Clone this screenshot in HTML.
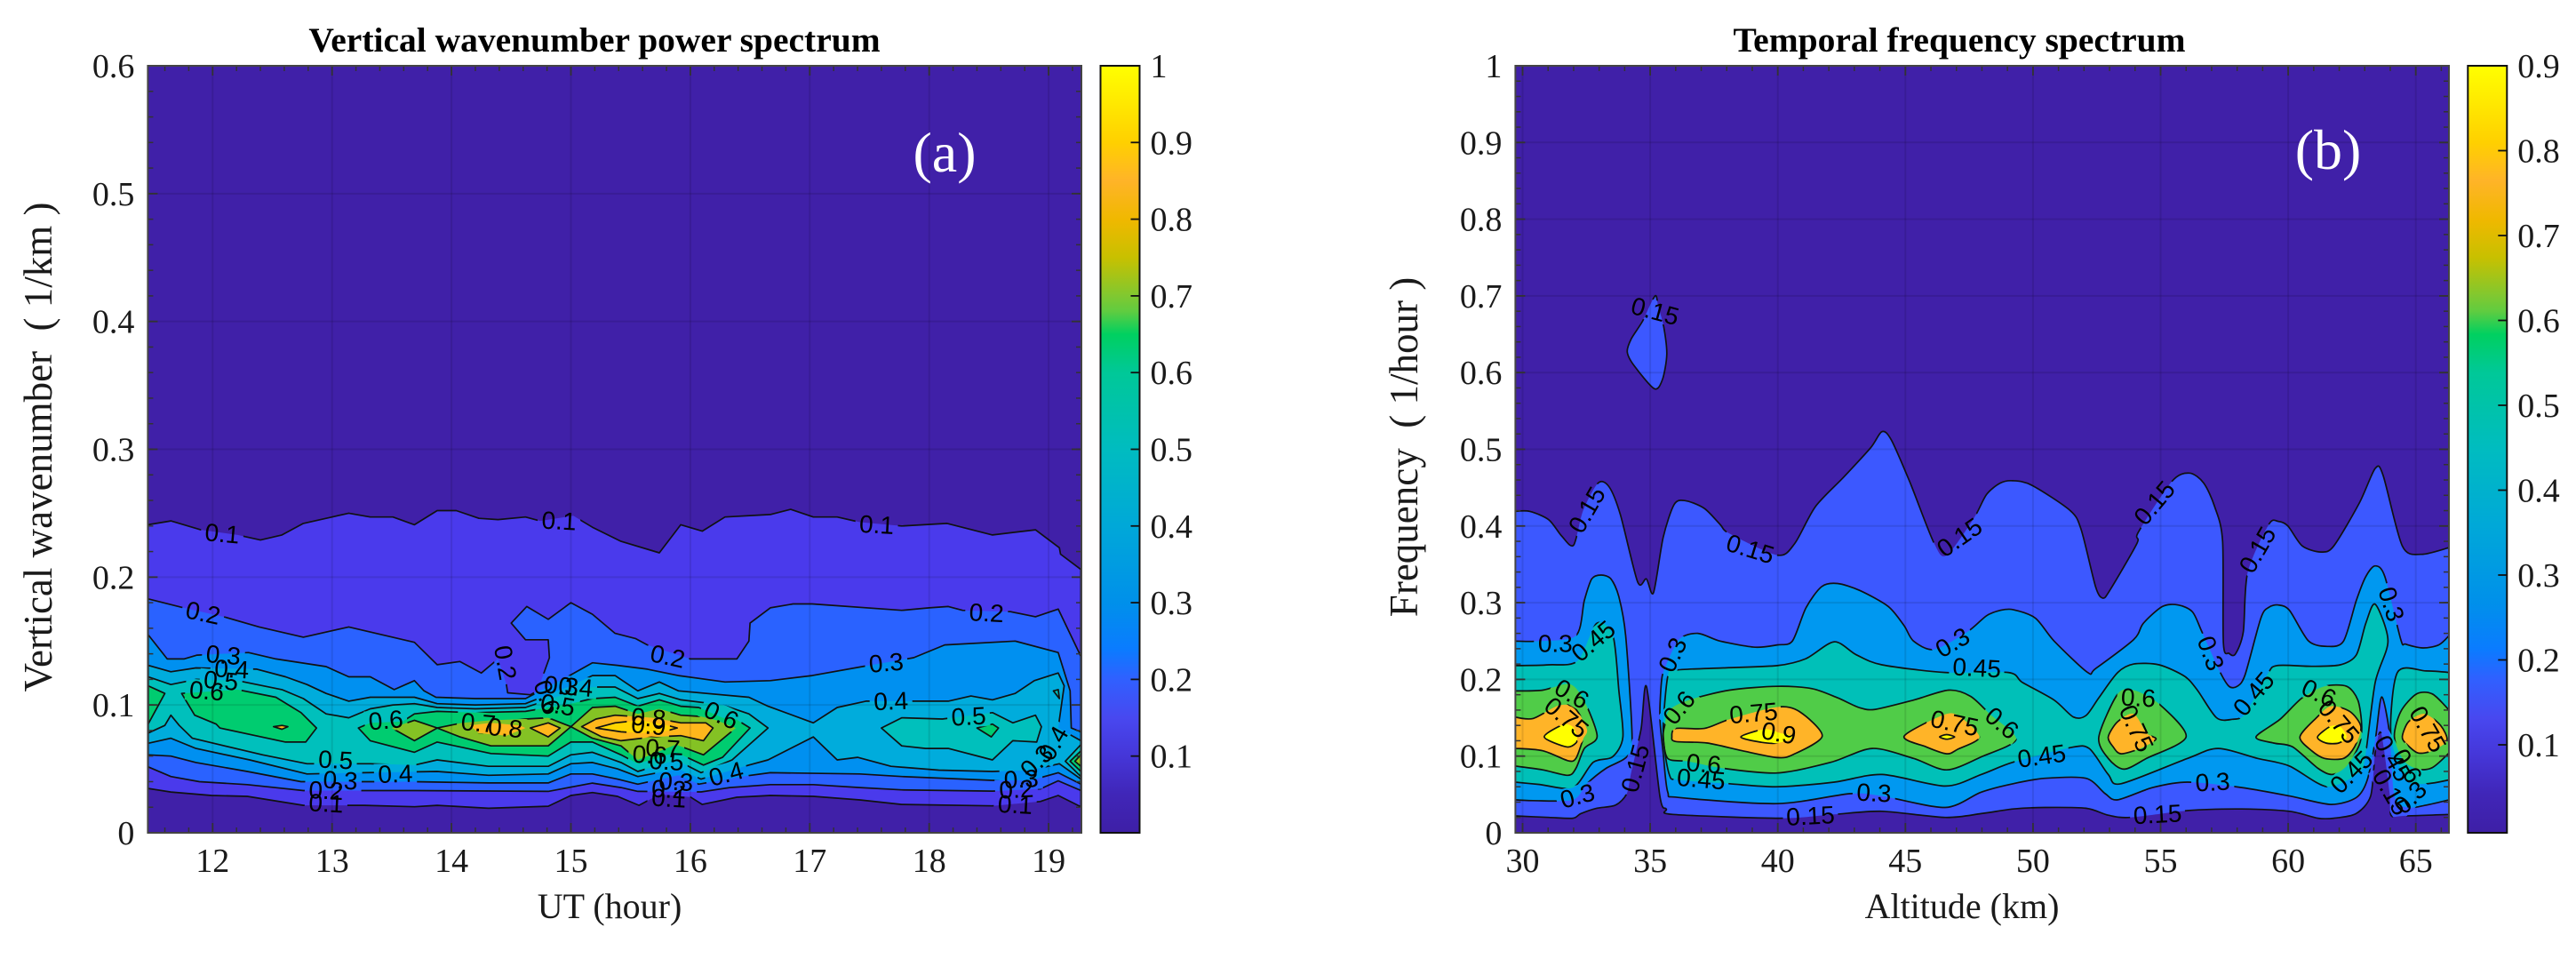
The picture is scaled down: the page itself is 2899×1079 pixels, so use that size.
<!DOCTYPE html>
<html lang="en">
<head>
<meta charset="utf-8">
<title>Vertical wavenumber and temporal frequency spectra</title>
<style>
html,body{margin:0;padding:0;background:#fff;width:2899px;height:1079px;overflow:hidden}
svg{display:block}
text{font-family:"Liberation Serif",serif;fill:#1a1a1a}
.cl{font-family:"Liberation Sans",sans-serif;font-size:28px;fill:#000}
.tl{font-size:38px}
.at{font-size:40px}
.yt{font-size:45px}
.ti{font-size:39.5px;font-weight:bold;fill:#000}
.pl{font-size:64px;fill:#fff}
</style>
</head>
<body>
<svg id="figure" xmlns="http://www.w3.org/2000/svg" width="2899" height="1079" viewBox="0 0 2899 1079">
  <defs>
    <clipPath id="clip-a"><rect x="166.4" y="74" width="1050.6" height="863"/></clipPath>
    <clipPath id="clip-b"><rect x="1705.4" y="74" width="1050.6" height="863"/></clipPath>
    <linearGradient id="cmap" x1="0" y1="1" x2="0" y2="0">
      <stop offset="0" stop-color="#3e1fa6"/><stop offset=".05" stop-color="#4026b8"/>
      <stop offset=".1" stop-color="#4536d8"/><stop offset=".15" stop-color="#4848f0"/>
      <stop offset=".2" stop-color="#3060ff"/><stop offset=".24" stop-color="#0a7cff"/>
      <stop offset=".3" stop-color="#0090ea"/><stop offset=".4" stop-color="#00a8d8"/>
      <stop offset=".5" stop-color="#00bcc0"/><stop offset=".6" stop-color="#00c898"/>
      <stop offset=".65" stop-color="#00d060"/><stop offset=".68" stop-color="#60cc40"/>
      <stop offset=".7" stop-color="#80c830"/><stop offset=".75" stop-color="#c8c000"/>
      <stop offset=".8" stop-color="#f0b800"/><stop offset=".85" stop-color="#ffb428"/>
      <stop offset=".9" stop-color="#ffd000"/><stop offset=".95" stop-color="#ffe800"/>
      <stop offset="1" stop-color="#ffff00"/>
    </linearGradient>
  </defs>
  <rect x="166.4" y="74" width="1050.6" height="863" fill="#4020a8"/>
  <rect x="1705.4" y="74" width="1050.6" height="863" fill="#4020a8"/>
  <g id="panel-a"></g>
  <g id="panel-b"></g>
  <g id="axes"></g>
  <rect x="1238.5" y="74" width="44" height="863" fill="url(#cmap)" stroke="#111" stroke-width="2"/>
  <rect x="2777.3" y="74" width="44" height="863" fill="url(#cmap)" stroke="#111" stroke-width="2"/>
  <text class="ti" x="669" y="58" text-anchor="middle">Vertical wavenumber power spectrum</text>
  <text class="ti" x="2205" y="58" text-anchor="middle">Temporal frequency spectrum</text>
  <text class="at" x="686" y="1033" text-anchor="middle">UT (hour)</text>
  <text class="at" x="2208" y="1033" text-anchor="middle">Altitude (km)</text>
  <text class="yt" transform="translate(58,503) rotate(-90)" text-anchor="middle" xml:space="preserve">Vertical wavenumber  ( 1/km )</text>
  <text class="yt" transform="translate(1595,503) rotate(-90)" text-anchor="middle" xml:space="preserve">Frequency  ( 1/hour )</text>
  <text class="pl" x="1063" y="193" text-anchor="middle">(a)</text>
  <text class="pl" x="2620" y="190" text-anchor="middle">(b)</text>
</svg>
<script>
// ---------- Panel (a): tick values ----------
const aXTicks = [12,13,14,15,16,17,18,19];
const aYTicks = [0,0.1,0.2,0.3,0.4,0.5,0.6];
const aBarTicks = [0.1,0.2,0.3,0.4,0.5,0.6,0.7,0.8,0.9,1];
// ---------- Panel (a): contour outlines as flat [UT hour, wavenumber, ...] ----------
const aC10 = [11.46,.241,11.65,.244,11.90,.237,12.21,.233,12.40,.229,12.58,.233,12.76,.242,13.0,.247,13.14,.250,13.32,.247,13.51,.247,13.69,.241,13.88,.252,14.04,.252,14.23,.246,14.39,.245,14.62,.247,14.74,.244,15.02,.248,15.18,.239,15.42,.228,15.74,.219,15.92,.241,16.10,.236,16.29,.247,16.67,.249,16.84,.253,17.03,.247,17.23,.247,17.42,.243,17.77,.240,18.15,.242,18.53,.233,18.89,.237,19.09,.223,19.10,.218,19.27,.206,
  19.27,.0204,19.08,.0292,18.93,.0245,18.53,.0211,17.77,.0222,17.42,.0257,17.03,.0285,16.67,.0292,16.39,.0278,16.10,.0222,16.0,.028,15.74,.030,15.57,.0215,15.39,.0285,15.18,.0315,15.0,.0292,14.81,.0208,14.31,.0192,13.88,.0215,13.69,.0204,13.27,.0215,12.76,.0215,12.29,.0285,11.99,.0292,11.65,.0319,11.46,.0347];
const aC20 = [11.46,.183,11.76,.176,12.11,.1685,12.39,.161,12.76,.153,13.14,.161,13.69,.149,13.88,.1315,14.07,.134,14.25,.125,14.39,.136,14.46,.116,14.47,.1095,14.66,.108,14.72,.111,14.82,.137,14.81,.151,14.62,.151,14.50,.164,14.63,.177,14.81,.167,15.0,.180,15.18,.171,15.37,.156,15.54,.152,15.64,.147,16.0,.136,16.39,.136,16.49,.15,16.50,.164,16.67,.176,16.86,.179,17.02,.179,17.77,.174,18.0,.176,18.16,.177,18.28,.174,18.68,.173,18.89,.169,19.08,.175,19.27,.138,
  19.27,.0331,19.08,.0407,18.93,.0343,18.53,.0326,17.77,.0336,17.42,.0354,17.03,.0377,16.67,.0377,16.33,.0354,16.09,.032,15.56,.0324,15.42,.0354,15.18,.0389,14.81,.0324,13.69,.033,13.27,.033,12.76,.033,12.29,.0377,11.89,.04,11.65,.044,11.46,.0516];
const aC30 = [11.46,.155,11.62,.136,11.76,.136,11.87,.139,12.30,.141,12.53,.136,12.95,.130,13.14,.122,13.32,.122,13.52,.112,13.69,.119,13.77,.111,13.87,.106,14.20,.105,14.62,.105,14.97,.122,15.18,.133,15.39,.131,15.64,.128,15.90,.123,16.29,.118,16.67,.119,17.02,.123,17.44,.130,17.87,.137,18.13,.147,18.72,.150,19.08,.141,19.18,.111,19.19,.082,19.27,.079,
  19.27,.038,19.08,.047,18.85,.041,18.53,.041,17.77,.044,17.42,.046,16.67,.047,16.43,.044,16.07,.038,15.90,.045,15.56,.038,15.39,.042,15.18,.046,15.0,.046,14.81,.039,14.31,.039,13.69,.040,13.27,.040,12.74,.040,12.29,.048,11.86,.055,11.65,.060,11.46,.061];
const aC40 = [11.46,.131,11.65,.126,11.86,.129,12.37,.128,12.61,.122,12.79,.116,12.95,.109,13.14,.103,13.32,.106,13.51,.106,13.69,.106,13.88,.101,14.20,.100,14.62,.101,15.0,.115,15.18,.123,15.37,.123,15.56,.111,15.74,.118,15.90,.111,16.49,.106,16.65,.099,17.03,.086,17.23,.098,17.47,.103,18.16,.103,18.35,.107,18.53,.104,18.72,.109,18.88,.119,19.08,.125,19.13,.115,19.08,.082,19.27,.072,
  19.27,.042,19.09,.054,18.85,.049,18.53,.048,18.08,.049,17.68,.052,17.40,.059,17.23,.057,17.03,.075,16.65,.057,16.49,.053,16.09,.042,15.90,.050,15.56,.044,15.39,.050,15.18,.055,15.0,.054,14.81,.046,14.31,.045,13.88,.048,13.27,.047,12.79,.046,12.31,.057,11.86,.066,11.65,.074,11.46,.070];
const aC50Main = [11.46,.122,11.65,.116,11.86,.120,12.21,.119,12.58,.112,12.76,.105,12.95,.093,13.14,.090,13.32,.097,13.51,.100,13.69,.101,13.88,.098,14.20,.097,14.62,.098,15.0,.110,15.18,.114,15.37,.114,15.56,.105,15.74,.109,15.92,.104,16.27,.100,16.49,.093,16.65,.082,
  16.35,.057,16.09,.047,15.88,.057,15.56,.048,15.42,.055,15.18,.063,15.0,.061,14.81,.052,14.31,.052,13.88,.057,13.69,.053,13.32,.054,12.79,.054,12.42,.061,11.83,.074,11.72,.084,11.65,.092,11.60,.084,11.46,.078];
const aC50Right = [17.60,.082,17.77,.090,18.11,.089,18.53,.094,18.70,.086,18.89,.092,18.94,.083,18.90,.071,18.70,.072,18.53,.057,18.16,.066,17.97,.066,17.77,.068];
const aC50Loop = [19.04,.111,19.08,.112,19.09,.105];
const aC50Corner = [19.14,.056,19.27,.069,19.27,.044];
const aC60Left = [11.46,.115,11.60,.109,11.46,.085];
const aC60First = [11.74,.109,11.85,.092,12.03,.085,12.06,.082,12.61,.071,12.78,.071,12.87,.082,12.74,.094,12.53,.106,12.21,.112];
const aC60Second = [13.22,.082,13.32,.086,13.59,.087,13.69,.093,13.88,.095,14.20,.094,14.62,.095,15.0,.101,15.18,.105,15.37,.106,15.56,.099,15.74,.104,15.92,.099,16.07,.098,16.27,.090,16.38,.089,16.50,.082,16.27,.059,16.11,.053,15.88,.063,15.56,.054,15.42,.061,15.18,.071,15.0,.071,14.81,.060,14.33,.062,13.88,.071,13.69,.063,13.32,.072];
const aC60Small = [18.40,.082,18.53,.085,18.58,.082,18.52,.075];
const aC60Corner = [19.18,.056,19.27,.064,19.27,.048];
const aC70Dot = [12.51,.083,12.58,.084,12.63,.083,12.58,.081];
const aC70Diamond = [13.50,.082,13.69,.088,13.88,.082,13.69,.072];
const aC70Middle = [13.88,.082,14.09,.086,14.33,.088,14.62,.089,14.81,.090,15.0,.083,14.81,.068,14.33,.068,14.07,.075];
const aC70Right = [15.0,.083,15.18,.098,15.37,.099,15.56,.093,15.74,.097,15.92,.092,16.09,.091,16.22,.088,16.38,.082,16.11,.061,15.88,.069,15.56,.057,15.42,.068,15.18,.074];
const aC70Corner = [19.22,.056,19.27,.061,19.27,.052];
const aC80Left = [14.15,.084,14.33,.086,14.57,.084,14.62,.082,14.46,.076,14.23,.078];
const aC80Diamond = [14.66,.082,14.81,.086,14.91,.082,14.81,.075];
const aC80Right = [15.09,.083,15.21,.089,15.37,.092,15.69,.090,15.92,.086,16.13,.086,16.19,.082,16.11,.072,15.92,.076,15.69,.075,15.42,.072,15.26,.075];
const aC90 = [15.21,.082,15.37,.086,15.58,.088,15.77,.085,15.89,.082,15.77,.079,15.58,.078,15.42,.079];
const aLevels = [
  {fill:'#4a3aec', polys:[aC10]},
  {fill:'#2a62ff', polys:[aC20]},
  {fill:'#0090f0', polys:[aC30]},
  {fill:'#00acdc', polys:[aC40]},
  {fill:'#00c0bc', polys:[aC50Main,aC50Right,aC50Loop,aC50Corner]},
  {fill:'#00cc70', polys:[aC60Left,aC60First,aC60Second,aC60Small,aC60Corner]},
  {fill:'#84c224', polys:[aC70Diamond,aC70Middle,aC70Right,aC70Corner]},
  {fill:'#ffb71c', polys:[aC70Dot,aC80Left,aC80Diamond,aC80Right]},
  {fill:'#ffd500', polys:[aC90]}
];
// label text, UT hour, wavenumber, rotation (deg)
const aLabels = [
  ['0.1',12.08,.234,5],['0.2',11.92,.172,12],['0.3',12.09,.139,5],['0.4',12.16,.128,3],['0.5',12.07,.119,5],['0.6',11.95,.111,5],
  ['0.1',14.90,.244,3],['0.2',14.45,.133,80],['0.3',14.92,.115,5],['0.4',15.04,.114,5],['0.5',14.89,.100,10],['0.6',14.80,.106,70],
  ['0.6',13.45,.088,-5],['0.7',14.225,.086,5],['0.8',14.45,.082,5],['0.5',13.03,.057,3],['0.4',13.53,.046,-2],['0.3',13.07,.041,3],['0.2',12.95,.033,3],['0.1',12.95,.023,3],
  ['0.1',17.56,.241,3],['0.2',15.81,.138,12],['0.2',18.48,.172,3],['0.3',17.64,.133,-5],['0.4',17.68,.103,-2],['0.5',18.33,.091,-3],['0.6',16.26,.092,25],
  ['0.8',15.65,.090,5],['0.9',15.65,.084,5],['0.7',15.77,.066,3],['0.6',15.66,.061,3],['0.5',15.80,.056,3],['0.3',15.88,.040,3],['0.2',15.82,.034,3],['0.1',15.82,.027,3],['0.4',16.30,.046,-15],
  ['0.3',18.77,.042,-3],['0.2',18.73,.034,-3],['0.1',18.72,.022,3],['0.3',18.90,.056,-45],['0.4',19.04,.070,-60]
];
// ---------- Panel (b): tick values ----------
const bXTicks = [30,35,40,45,50,55,60,65];
const bYTicks = [0,0.1,0.2,0.3,0.4,0.5,0.6,0.7,0.8,0.9,1];
const bBarTicks = [0.1,0.2,0.3,0.4,0.5,0.6,0.7,0.8,0.9];
// ---------- Panel (b): contour outlines as flat [altitude km, frequency, ...] ----------
const bC15Main = [29.70,.419,30.29,.419,31.03,.408,31.53,.387,32.0,.375,32.37,.420,32.96,.456,33.39,.451,33.83,.415,34.51,.327,34.85,.331,35.13,.313,35.51,.385,35.94,.428,36.37,.433,37.12,.423,37.74,.402,38.11,.390,39.98,.362,40.66,.377,41.47,.425,42.59,.464,43.64,.502,44.08,.523,44.45,.512,45.19,.456,46.13,.377,46.62,.362,47.68,.410,48.18,.441,48.72,.456,49.22,.459,49.96,.453,51.46,.420,51.89,.395,52.45,.321,52.73,.306,53.01,.316,54.07,.377,54.13,.392,55.44,.458,56.13,.469,56.69,.456,57.12,.425,57.43,.380,57.46,.247,57.68,.234,57.93,.233,58.24,.262,58.41,.339,59.24,.402,59.61,.406,59.99,.400,60.55,.374,61.29,.366,61.79,.374,62.79,.430,63.41,.475,63.72,.466,64.47,.374,65.22,.363,66.30,.372,
  66.30,.024,64.53,.022,64.03,.023,63.97,.053,63.64,.130,63.41,.104,63.23,.048,62.66,.025,61.79,.019,61.17,.019,60.05,.028,58.18,.031,56.06,.029,53.82,.020,52.95,.023,52.08,.032,50.46,.033,49.22,.031,47.97,.025,46.56,.020,44.08,.028,42.21,.024,40.10,.019,35.88,.024,35.63,.031,35.38,.048,34.86,.190,34.64,.135,34.26,.079,34.08,.051,33.64,.036,32.90,.032,32.28,.025,31.97,.019,31.03,.020,29.70,.022];
const bC15Island = [35.19,.700,34.70,.667,34.26,.644,34.10,.627,34.37,.609,35.16,.579,35.48,.591,35.65,.624,35.53,.660,35.32,.685];
const bC30Left = [29.70,.250,30.66,.250,32.09,.257,32.42,.303,32.71,.331,33.08,.336,33.46,.331,33.77,.308,34.04,.257,34.29,.125,34.08,.099,33.27,.084,32.52,.064,31.97,.043,30.41,.042,29.70,.043];
const bC30Main = [48.72,.290,49.22,.291,50.09,.280,50.83,.250,52.14,.209,52.45,.214,53.95,.252,54.32,.273,55.07,.295,55.69,.297,56.25,.288,56.62,.262,57.31,.211,57.68,.191,58.0,.191,58.31,.206,58.93,.280,59.24,.294,59.61,.297,60.05,.290,60.8,.250,61.54,.243,62.17,.250,62.67,.303,63.04,.334,63.41,.348,63.79,.334,64.41,.252,64.6,.246,65.28,.241,65.9,.245,66.3,.257,
  66.3,.043,65.4,.036,64.66,.033,64.16,.048,63.97,.130,63.66,.177,63.41,.120,63.1,.069,62.67,.046,61.67,.037,60.05,.048,58.18,.059,56.06,.066,54.69,.059,53.32,.043,52.83,.051,52.08,.071,50.46,.071,49.22,.064,47.97,.053,46.56,.033,44.08,.048,42.83,.051,39.98,.038,36.13,.046,35.69,.053,35.51,.104,35.38,.150,35.44,.196,35.57,.214,36.13,.252,36.87,.260,37.74,.250,39.11,.242,39.98,.245,40.57,.250,41.1,.293,41.72,.321,42.34,.325,43.21,.316,44.33,.295,44.95,.270,45.32,.250,46.13,.239,47.43,.262,48.18,.283];
const bC45Left = [29.7,.218,31.03,.219,32.15,.224,32.9,.273,33.54,.257,33.77,.186,33.93,.125,33.52,.099,32.77,.092,31.97,.059,30.66,.063,29.7,.066];
const bC45Main = [35.69,.204,36.0,.212,37.87,.215,39.98,.218,41.1,.227,42.21,.249,43.08,.232,44.08,.219,46.56,.209,49.03,.209,49.59,.196,50.83,.173,51.58,.151,52.08,.153,52.58,.176,53.32,.209,53.95,.220,54.94,.219,55.94,.204,56.44,.186,57.19,.150,57.81,.148,58.31,.155,59.18,.206,59.55,.218,60.92,.217,62.04,.219,62.67,.232,63.04,.273,63.41,.298,63.91,.250,63.41,.196,63.04,.104,62.79,.079,61.54,.060,60.05,.087,58.8,.097,57.25,.110,56.06,.097,53.45,.064,52.95,.076,52.2,.110,51.46,.111,49.22,.092,47.97,.076,46.56,.061,44.08,.076,42.21,.066,39.98,.060,38.11,.064,36.13,.069,35.75,.076,35.51,.130];
const bC45Right = [64.28,.209,65.4,.211,66.3,.209,66.3,.069,65.4,.064,64.66,.069,64.03,.125];
const bC60Left = [29.7,.185,30.79,.186,31.84,.194,32.4,.173,32.92,.126,32.42,.110,32.09,.084,31.78,.075,30.79,.082,29.7,.087];
const bC60Main = [35.57,.140,35.75,.160,36.5,.173,38.11,.186,39.98,.191,41.34,.188,42.34,.176,43.21,.163,43.83,.161,45.32,.173,46.69,.186,47.55,.178,48.3,.155,49.34,.122,47.97,.099,46.62,.082,45.32,.097,43.7,.110,42.09,.092,39.98,.078,37.87,.084,36.5,.093,35.69,.097,35.51,.125];
const bC60Third = [52.58,.125,53.32,.181,53.95,.186,54.94,.168,56.0,.125,54.45,.097,53.57,.083,52.95,.097];
const bC60Fourth = [58.74,.125,59.68,.148,60.55,.176,61.42,.191,62.29,.191,62.73,.173,62.88,.140,62.79,.115,62.29,.087,61.73,.076,61.17,.084,60.17,.112,59.43,.117];
const bC60Right = [64.16,.125,64.41,.158,65.03,.181,65.65,.181,66.3,.160,66.3,.104,65.65,.085,65.09,.083,64.53,.094];
const bC75Left = [29.7,.151,30.41,.149,31.41,.166,32.03,.163,32.52,.135,32.37,.122,32.09,.097,31.78,.094,30.79,.107,29.7,.110];
const bC75Main = [35.85,.125,36.0,.136,37.12,.136,38.11,.148,39.98,.164,40.85,.158,41.74,.126,40.6,.102,39.98,.098,38.61,.107,37.24,.117,36.0,.119];
const bC75Third = [44.95,.126,46.44,.153,47.06,.153,47.9,.125,47.06,.109,46.62,.103,45.81,.112];
const bC75Fourth = [52.95,.125,53.32,.145,53.95,.155,54.45,.130,54.82,.122,54.2,.110,53.45,.103,53.14,.112];
const bC75Fifth = [60.46,.125,61.11,.150,61.67,.165,62.42,.158,62.85,.138,62.6,.112,62.17,.097,61.42,.097,60.92,.107];
const bC75Right = [64.47,.125,64.72,.145,65.34,.155,65.97,.140,66.22,.120,65.65,.107,65.09,.104,64.66,.115];
const bC90Left = [30.85,.125,31.59,.141,31.97,.138,32.13,.125,32.09,.117,31.72,.112];
const bC90Main = [38.55,.125,39.48,.135,40.1,.130,40.66,.125,39.98,.117,39.36,.118];
const bC90Small = [46.34,.125,46.62,.128,46.93,.125,46.62,.122];
const bC90Fifth = [61.15,.125,61.67,.139,62.05,.138,62.29,.125,61.98,.117,61.48,.117];
const bLevels = [
  {fill:'#3c58ff', polys:[bC15Main,bC15Island]},
  {fill:'#0098f0', polys:[bC30Left,bC30Main]},
  {fill:'#00c0b8', polys:[bC45Left,bC45Main,bC45Right]},
  {fill:'#50cc48', polys:[bC60Left,bC60Main,bC60Third,bC60Fourth,bC60Right]},
  {fill:'#ffb428', polys:[bC75Left,bC75Main,bC75Third,bC75Fourth,bC75Fifth,bC75Right]},
  {fill:'#ffff00', polys:[bC90Left,bC90Main,bC90Small,bC90Fifth]}
];
// label text, altitude, frequency, rotation (deg)
const bLabels = [
  ['0.15',35.19,.680,15],['0.15',32.52,.421,-60],['0.15',38.92,.370,17],['0.15',47.12,.385,-35],['0.3',31.28,.247,0],['0.45',32.77,.250,-40],['0.6',31.93,.181,30],['0.75',31.72,.150,40],
  ['0.15',34.42,.084,-75],['0.3',32.15,.048,-15],['0.3',35.88,.232,-65],['0.6',36.13,.163,-50],['0.75',39.05,.156,-5],['0.9',40.04,.130,10],['0.6',37.1,.090,5],['0.45',37.0,.070,5],
  ['0.3',43.77,.052,3],['0.15',41.28,.022,-3],['0.3',46.85,.248,-30],['0.45',47.8,.215,3],['0.75',46.93,.143,12],['0.6',48.78,.143,40],['0.45',50.34,.100,-8],['0.6',54.13,.176,3],
  ['0.75',54.05,.136,65],['0.15',54.76,.430,-50],['0.15',58.8,.369,-60],['0.3',56.96,.234,70],['0.45',58.65,.181,-50],['0.3',64.04,.298,72],['0.6',61.2,.182,25],['0.75',61.98,.145,50],
  ['0.45',62.48,.079,-45],['0.3',57.04,.066,-3],['0.15',54.88,.024,-3],['0.75',65.47,.135,60],['0.45',64.1,.097,60],['0.6',64.66,.087,60],['0.3',64.78,.046,-45],['0.15',64.03,.053,60]
];

// ---------- Axis functions ----------
const xA = h => 239.3 + 134.4 * (h - 12);
const yA = v => 937 - 1438.3 * v;
const xB = a => 1713.5 + 28.72 * (a - 30);
const yB = v => 937 - 863 * v;
const yBarA = v => 937 - 863 * v;
const yBarB = v => 933.5 - 955 * v;
const bEdgeLow = 29.7;
const bEdgeHigh = 66.3;

const NS = 'http://www.w3.org/2000/svg';
function make(tag, attrs, parent){
  const e = document.createElementNS(NS, tag);
  for (const k in attrs) e.setAttribute(k, attrs[k]);
  parent.appendChild(e);
  return e;
}
function linePath(flat, fx, fy){
  let d = '';
  for (let i = 0; i < flat.length; i += 2) d += (i ? 'L' : 'M') + fx(flat[i]).toFixed(1) + ' ' + fy(flat[i+1]).toFixed(1);
  return d + 'Z';
}
function smoothPath(flat, fx, fy){
  const p = [], edge = [];
  for (let i = 0; i < flat.length; i += 2){
    p.push([fx(flat[i]), fy(flat[i+1])]);
    edge.push(flat[i] <= bEdgeLow || flat[i] >= bEdgeHigh);
  }
  const n = p.length;
  let d = 'M' + p[0][0].toFixed(1) + ' ' + p[0][1].toFixed(1);
  const k = 0.14;
  for (let i = 0; i < n; i++){
    const j = (i+1)%n;
    const a = p[(i-1+n)%n], b = p[i], c = p[j], e = p[(i+2)%n];
    const k1 = edge[i] ? 0 : k, k2 = edge[j] ? 0 : k;
    d += 'C' + (b[0]+(c[0]-a[0])*k1).toFixed(1) + ' ' + (b[1]+(c[1]-a[1])*k1).toFixed(1) + ' ' +
         (c[0]-(e[0]-b[0])*k2).toFixed(1) + ' ' + (c[1]-(e[1]-b[1])*k2).toFixed(1) + ' ' +
         c[0].toFixed(1) + ' ' + c[1].toFixed(1);
  }
  return d + 'Z';
}
function drawPanel(id, levels, labels, fx, fy, pathFn, clipId, maskId){
  const root = document.getElementById(id);
  const defs = document.querySelector('#figure defs');
  const mask = make('mask', {id:maskId, maskUnits:'userSpaceOnUse', x:0, y:0, width:2899, height:1079}, defs);
  make('rect', {x:0, y:0, width:2899, height:1079, fill:'#fff'}, mask);
  labels.forEach(l => {
    const w = l[0].length * 14 + 6;
    make('rect', {x:-w/2, y:-12, width:w, height:24, fill:'#000',
      transform:'translate(' + fx(l[1]) + ',' + fy(l[2]) + ') rotate(' + l[3] + ')'}, mask);
  });
  const fills = make('g', {'clip-path':'url(#' + clipId + ')'}, root);
  const clipLines = make('g', {'clip-path':'url(#' + clipId + ')'}, root);
  const lines = make('g', {mask:'url(#' + maskId + ')', fill:'none', stroke:'#111', 'stroke-width':1.7, 'stroke-linejoin':'round'}, clipLines);
  levels.forEach(level => {
    level.polys.forEach(poly => {
      const d = pathFn(poly, fx, fy);
      const f = make('path', {d:d, fill:level.fill}, fills);
      
      
      const s = make('path', {d:d}, lines);
      
      
    });
  });
  labels.forEach(l => {
    const t = make('text', {'class':'cl', 'text-anchor':'middle', 'dominant-baseline':'central',
      transform:'translate(' + fx(l[1]).toFixed(1) + ',' + fy(l[2]).toFixed(1) + ') rotate(' + l[3] + ')'}, root);
    t.textContent = l[0];
    
    
  });
}
function seg(parent, x1, y1, x2, y2, stroke, w){
  return make('line', {x1:x1, y1:y1, x2:x2, y2:y2, stroke:stroke, 'stroke-width':w}, parent);
}
function drawAxes(xTicks, yTicks, xMinorStep, fx, fy, L, R, T, B){
  const g = document.getElementById('axes');
  const grid = 'rgba(0,0,0,.1)', ink = '#333';
  // minor ticks along both axes
  const xLo = xTicks[0] - 5 * xMinorStep * 3, xHi = xTicks[xTicks.length-1] + 5 * xMinorStep * 3;
  for (let i = 0; xLo + i * xMinorStep <= xHi; i++){
    const x = fx(xLo + i * xMinorStep);
    if (x < L + 1 || x > R - 1) continue;
    seg(g, x, B, x, B - 6, ink, 1.5);
    seg(g, x, T, x, T + 6, ink, 1.5);
  }
  for (let v = 0; v <= yTicks[yTicks.length-1] + 1e-6; v += 0.02){
    seg(g, L, fy(v), L + 6, fy(v), ink, 1.5);
    seg(g, R, fy(v), R - 6, fy(v), ink, 1.5);
  }
  xTicks.forEach(t => {
    const x = fx(t);
    const gl = seg(g, x, T, x, B, grid, 2);
    
    
    seg(g, x, B, x, B - 11, ink, 1.8);
    seg(g, x, T, x, T + 11, ink, 1.8);
    const tx = make('text', {'class':'tl', x:x, y:981, 'text-anchor':'middle'}, g);
    tx.textContent = String(t);
    
    
  });
  yTicks.forEach(t => {
    const y = fy(t);
    const gl = seg(g, L, y, R, y, grid, 2);
    
    
    seg(g, L, y, L + 11, y, ink, 1.8);
    seg(g, R, y, R - 11, y, ink, 1.8);
    const tx = make('text', {'class':'tl', x:L - 15, y:y + 13, 'text-anchor':'end'}, g);
    tx.textContent = String(t);
    
    
  });
  const box = make('rect', {x:L, y:T, width:R - L, height:B - T, fill:'none', stroke:'#444', 'stroke-width':2}, g);
  
  
}
function drawBarTicks(ticks, fy, right){
  const svg = document.getElementById('figure');
  const g = make('g', {}, svg);
  
  
  ticks.forEach(t => {
    const y = fy(t);
    seg(g, right - 10, y, right, y, '#111', 1.8);
    const tx = make('text', {'class':'tl', x:right + 12, y:y + 13}, g);
    tx.textContent = String(t);
    
    
  });
}
drawPanel('panel-a', aLevels, aLabels, xA, yA, linePath, 'clip-a', 'gap-a');
drawPanel('panel-b', bLevels, bLabels, xB, yB, smoothPath, 'clip-b', 'gap-b');
drawAxes(aXTicks, aYTicks, 0.2, xA, yA, 166.4, 1217, 74, 937);
drawAxes(bXTicks, bYTicks, 1, xB, yB, 1705.4, 2756, 74, 937);
drawBarTicks(aBarTicks, yBarA, 1282.5);
drawBarTicks(bBarTicks, yBarB, 2821.3);
</script>
</body>
</html>
